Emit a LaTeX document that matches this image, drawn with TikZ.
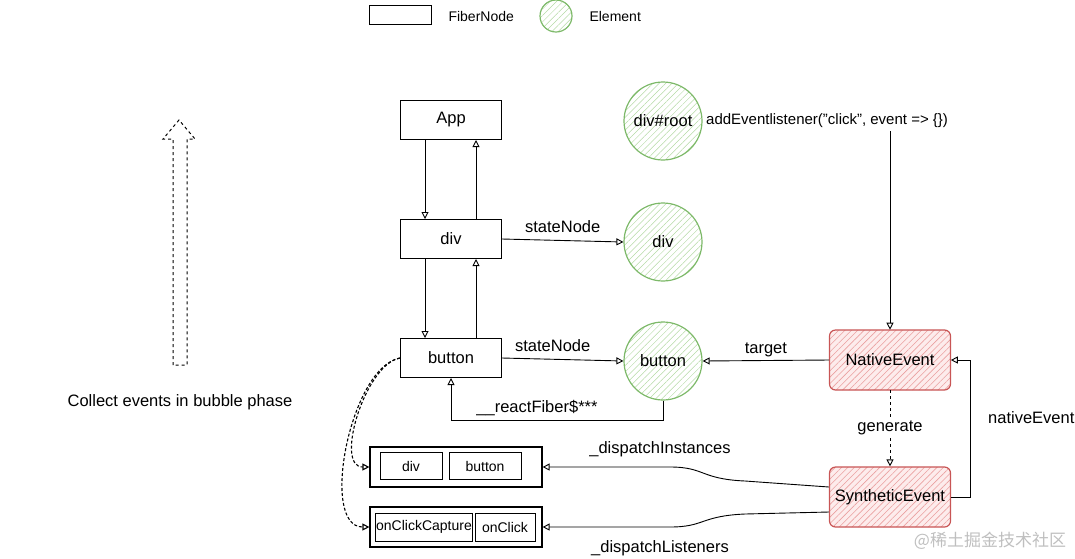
\documentclass[tikz,border=0pt]{standalone}
\usepackage{fontspec}
\setmainfont{Liberation Sans}
\newfontfamily\cjkfont{Noto Sans CJK SC}
\usetikzlibrary{arrows.meta,patterns.meta,calc}

\definecolor{elgreen}{RGB}{125,185,105}
\definecolor{elhatch}{RGB}{180,218,165}
\definecolor{evred}{RGB}{200,85,85}
\definecolor{evhatch}{RGB}{235,160,160}
\definecolor{evfill}{RGB}{253,236,236}

\newcommand\fsmain{\fontsize{16.5}{19}\selectfont}
\newcommand\fslist{\fontsize{14}{17}\selectfont}
\newcommand\fslegend{\fontsize{14}{17}\selectfont}

\tikzset{
  fiber/.style={draw, line width=1pt, minimum width=101pt, minimum height=39pt, font=\fsmain},
  element/.style={circle, draw=elgreen, line width=1.2pt, minimum size=78pt, inner sep=0pt,
    pattern={Lines[angle=45,distance=4.5pt,line width=0.5pt]}, pattern color=elhatch, font=\fsmain},
  event/.style={draw=evred, rounded corners=6pt, line width=1.2pt, preaction={fill=evfill},
    pattern={Lines[angle=45,distance=4.5pt,line width=0.6pt]}, pattern color=evhatch,
    minimum width=121pt, minimum height=60pt, font=\fsmain},
  listbox/.style={draw, line width=1.2pt, minimum width=172pt, minimum height=40pt},
  item/.style={draw, line width=1pt, minimum height=27pt, inner sep=1pt, font=\fslist},
  arr/.style={-{Triangle[open,length=7pt,width=7pt]}, line width=0.9pt},
  dotarr/.style={arr, densely dashed, line width=1.1pt},
  lbl/.style={font=\fsmain, inner sep=2pt}
}

\begin{document}
\begin{tikzpicture}[x=1pt,y=-1pt]
  \useasboundingbox (0,0) rectangle (1075,558);

  % legend
  \node[draw, line width=1pt, minimum width=62pt, minimum height=19pt] (legfiber) at (400,15) {};
  \node[anchor=west, font=\fslegend] (legfibertxt) at (445,16) {FiberNode};
  \node[element, minimum size=32pt] (legel) at (556,16) {};
  \node[anchor=west, font=\fslegend] (legeltxt) at (586,16) {Element};

  % bubble phase arrow
  \draw[dashed, line width=1pt] (173,365) -- (173,139) -- (163,139) -- (179,120)
      -- (195,139) -- (187,139) -- (187,365) -- cycle;
  \node[lbl] (bubble) at (180,402) {Collect events in bubble phase};

  % fiber tree
  \node[fiber] (app) at (451,120) {App};
  \node[fiber] (div) at (451,239) {div};
  \node[fiber] (button) at (451,358) {button};

  \draw[arr] ([xshift=-26pt]app.south) -- ([xshift=-26pt]div.north);
  \draw[arr] ([xshift=25pt]div.north) -- ([xshift=25pt]app.south);
  \draw[arr] ([xshift=-26pt]div.south) -- ([xshift=-26pt]button.north);
  \draw[arr] ([xshift=25pt]button.north) -- ([xshift=25pt]div.south);

  % elements
  \node[element] (root) at (663,121) {div\#root};
  \node[element] (divel) at (663,242) {div};
  \node[element] (btnel) at (663,361) {button};

  \draw[arr] (div.east) -- node[lbl, above=5pt] {stateNode} (divel.west);
  \draw[arr] (button.east) -- node[lbl, above=5pt, xshift=-10pt] {stateNode} (btnel.west);
  \draw[arr] (btnel.south) -- ++(0,20) coordinate (fibcorner) -| (button.south);
  \node[lbl] (fiberlbl) at (537,408) {\_\_reactFiber\$***};

  % events
  \node[anchor=west, font=\fontsize{15}{18}\selectfont, inner sep=0pt] (listen) at (706,121)
      {addEventlistener("click", event => \{\})};
  \node[event] (native) at (890,360) {NativeEvent};
  \node[event] (synth) at (890,497) {SyntheticEvent};

  \draw[arr] (listen.south -| native.north) ++(0,3) -- (native.north);
  \draw[arr] (native.west) -- node[lbl, above=1pt] {target} (btnel.east);
  \draw[arr, dashed] (native.south) -- node[lbl, fill=white] {generate} (synth.north);
  \draw[arr] (synth.east) -- ++(19,0) |- (native.east);
  \node[lbl, anchor=west] (nativelbl) at (986,418) {nativeEvent};

  % dispatch queues
  \node[listbox] (instances) at (456,467) {};
  \node[item, minimum width=62pt] (instdiv) at (411,466) {div};
  \node[item, minimum width=72pt] (instbtn) at (485,466) {button};

  \node[listbox] (listeners) at (456,527) {};
  \node[item, minimum width=96pt, minimum height=28pt] (capture) at (424,527) {onClickCapture};
  \node[item, minimum width=60pt, minimum height=28pt] (onclick) at (505,527) {onClick};

  \draw[arr] ([yshift=10pt]synth.west) -- (745,481)
      .. controls (700,479) and (705,467) .. (670,467) -- (instances.east);
  \node[lbl] (instlbl) at (660,449) {\_dispatchInstances};
  \draw[arr] ([yshift=-15pt]synth.west) -- (745,514)
      .. controls (700,516) and (705,527) .. (670,527) -- (listeners.east);
  \node[lbl] (listlbl) at (660,548) {\_dispatchListeners};

  \draw[dotarr] (button.west) to[out=190, in=180, looseness=0.8] (instances.west);
  \draw[dotarr] (button.west) to[out=190, in=180, looseness=0.75] (listeners.west);

  % watermark
  \node[text=black!25, font=\cjkfont\fontsize{17}{20}\selectfont] (mark) at (990,541) {@稀土掘金技术社区};
\end{tikzpicture}
\end{document}
